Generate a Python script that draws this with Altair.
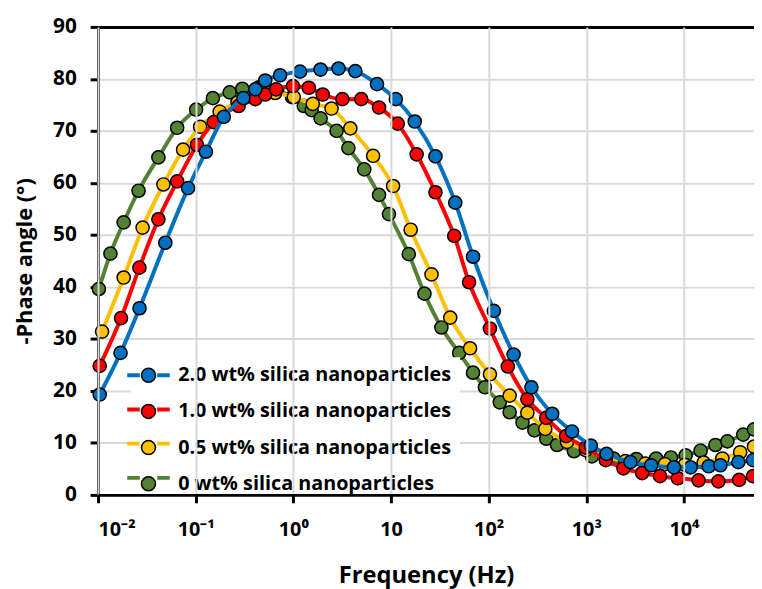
import altair as alt
import pandas as pd

series_names = [
    "2.0 wt% silica nanoparticles",
    "1.0 wt% silica nanoparticles",
    "0.5 wt% silica nanoparticles",
    "0 wt% silica nanoparticles",
]
series_colors = ["#0070C0", "#FF0000", "#FFC000", "#548235"]

# 2.0 wt%
freq_2_0 = [0.0104, 0.0170, 0.0266, 0.0489, 0.0836, 0.127, 0.194, 0.308, 0.408, 0.515,
            0.731, 1.17, 1.90, 2.90, 4.31, 7.19, 11.2, 17.5, 28.5, 45.5,
            69.2, 113, 180, 274, 447, 713, 1110, 1610, 2830, 4610,
            7890, 11700, 17900, 23600, 36000, 50900]
phase_2_0 = [19.3, 27.3, 35.9, 48.5, 59.0, 66.0, 72.7, 76.3, 78.0, 79.7,
             80.7, 81.4, 81.8, 82.0, 81.5, 79.0, 76.1, 71.8, 65.1, 56.2,
             45.8, 35.4, 27.0, 20.7, 15.6, 12.2, 9.5, 7.9, 6.3, 5.7,
             5.3, 5.3, 5.5, 5.7, 6.3, 6.7]

# 1.0 wt%
freq_1_0 = [0.0104, 0.0172, 0.0265, 0.0415, 0.0646, 0.103, 0.153, 0.275, 0.408, 0.515,
            0.667, 0.991, 1.44, 2.00, 3.18, 4.96, 7.54, 11.7, 18.3, 28.5,
            44.4, 63.0, 103, 157, 249, 389, 620, 988, 1580, 2400,
            3730, 5690, 8650, 14100, 22500, 36700, 50900]
phase_1_0 = [24.8, 34.0, 43.7, 53.0, 60.3, 67.3, 71.7, 74.8, 76.1, 77.0,
             78.0, 78.6, 78.3, 77.0, 76.1, 76.1, 74.5, 71.4, 65.5, 58.2,
             49.8, 40.9, 32.0, 24.7, 18.4, 14.8, 11.3, 9.1, 6.7, 5.1,
             4.2, 3.6, 3.2, 2.8, 2.6, 2.9, 3.6]

# 0.5 wt%
freq_0_5 = [0.0110, 0.0183, 0.0286, 0.0467, 0.0743, 0.111, 0.176, 0.268, 0.408, 0.651,
            1.01, 1.58, 2.46, 3.83, 6.56, 10.5, 15.9, 26.0, 40.4, 64.5,
            103, 164, 249, 380, 634, 988, 1580, 2510, 4010, 6390,
            10200, 15900, 24700, 37600, 52100]
phase_0_5 = [31.4, 41.8, 51.4, 59.7, 66.4, 70.8, 73.7, 75.5, 76.8, 77.3,
             76.5, 75.2, 74.3, 70.5, 65.2, 59.4, 51.0, 42.4, 34.1, 28.2,
             23.2, 19.1, 15.8, 12.7, 10.2, 8.6, 7.3, 6.5, 6.0, 5.9,
             5.8, 6.2, 7.0, 8.2, 9.3]

# 0 wt%
freq_0 = [0.0102, 0.0134, 0.0183, 0.0260, 0.0415, 0.0646, 0.101, 0.150, 0.223, 0.300,
          0.446, 0.682, 0.968, 1.28, 1.54, 1.90, 2.77, 3.66, 5.32, 7.54,
          9.53, 15.2, 22.0, 32.8, 49.9, 69.2, 91.5, 130, 164, 222,
          294, 389, 502, 747, 1140, 1900, 3250, 5180, 7350, 10400,
          14800, 21000, 27800, 40400, 52100]
phase_0 = [39.6, 46.4, 52.4, 58.5, 64.9, 70.6, 74.1, 76.3, 77.4, 78.1,
           78.4, 77.8, 76.5, 74.8, 74.0, 72.4, 70.0, 66.7, 62.6, 57.7,
           54.0, 46.3, 38.7, 32.2, 27.3, 23.5, 20.7, 17.8, 15.9, 13.9,
           12.4, 10.8, 9.6, 8.4, 7.4, 7.0, 6.9, 7.0, 7.2, 7.6,
           8.5, 9.6, 10.3, 11.6, 12.6]

x_ticks = [0.01, 0.1, 1, 10, 100, 1000, 10000]
x_tick_labels = ["10⁻²", "10⁻¹", "10⁰", "10", "10²", "10³", "10⁴"]
x_domain = [0.01, 52100]
y_ticks = [0, 10, 20, 30, 40, 50, 60, 70, 80, 90]

FONT = "Open Sans"

series_data = {
    series_names[0]: (freq_2_0, phase_2_0),
    series_names[1]: (freq_1_0, phase_1_0),
    series_names[2]: (freq_0_5, phase_0_5),
    series_names[3]: (freq_0, phase_0),
}

label_expr = ""
for i, (v, lab) in enumerate(zip(x_ticks, x_tick_labels)):
    if i < len(x_ticks) - 1:
        label_expr += f"datum.value < {v * 3} ? '{lab}' : "
    else:
        label_expr += f"'{lab}'"

# line legend uses a twin key (zero-width space appended) so it is not merged
ZW = "\u200b"
line_keys = [n + ZW for n in series_names]

x_scale = alt.Scale(type="log", domain=x_domain, nice=False)
y_scale = alt.Scale(domain=[0, 90], nice=False)
fill_scale = alt.Scale(domain=series_names, range=series_colors)
line_scale = alt.Scale(domain=line_keys, range=series_colors)

LEG_SIZE = 200
legend_common = dict(
    orient="none", title=None, symbolSize=LEG_SIZE, labelFontSize=20, labelFont=FONT,
    labelFontWeight="bold", rowPadding=14.6, labelLimit=400,
)
point_legend = alt.Legend(
    legendX=33, legendY=334, padding=8, fillColor="white", symbolType="circle",
    symbolStrokeColor="black", symbolStrokeWidth=1.5, symbolOpacity=1,
    labelColor="black", labelOffset=20, zindex=1, **legend_common,
)
line_legend = alt.Legend(
    legendX=41, legendY=342, padding=0,
    symbolType="M-3.04,0L-1.24,0M1.24,0L3.04,0", symbolStrokeWidth=4,
    labelExpr="''", labelOffset=20, zindex=2, **legend_common,
)

x_axis = alt.Axis(values=x_ticks, labelExpr=label_expr, title="Frequency (Hz)",
                  titlePadding=25, labelPadding=17, labelFontSize=20, titleFontSize=24,
                  zindex=3)
y_axis = alt.Axis(
    values=y_ticks, title="-Phase angle (°)", titlePadding=16,
    labelPadding=14, labelFontSize=21, titleFontSize=22,
    gridColor=alt.condition("datum.value >= 90", alt.value("black"), alt.value("#d9d9d9")),
    gridWidth=alt.condition("datum.value >= 90", alt.value(3), alt.value(2)),
)

layers = []
draw_order = [series_names[3], series_names[2], series_names[1], series_names[0]]
for name in draw_order:
    f, p = series_data[name]
    df = pd.DataFrame({"freq": f, "phase": p, "series": name, "key": name + ZW})
    base = alt.Chart(df)
    line = base.mark_line(strokeWidth=4, interpolate="monotone").encode(
        x=alt.X("freq:Q", scale=x_scale, axis=x_axis),
        y=alt.Y("phase:Q", scale=y_scale, axis=y_axis),
        stroke=alt.Stroke("key:N", scale=line_scale, legend=line_legend),
    )
    pts = base.mark_point(filled=True, size=177, stroke="black", strokeWidth=1.5,
                          opacity=1).encode(
        x=alt.X("freq:Q", scale=x_scale),
        y=alt.Y("phase:Q", scale=y_scale),
        color=alt.Color("series:N", scale=fill_scale, legend=point_legend),
    )
    layers += [line, pts]

chart = alt.layer(*layers).properties(
    width=663, height=473,
    autosize=alt.AutoSizeParams(type="none"),
    padding={"left": 91, "top": 16, "right": 0, "bottom": 92},
).configure_view(stroke=None).configure_axis(
    labelFont=FONT, labelFontWeight="bold", labelColor="black",
    titleFont=FONT, titleFontWeight="bold", titleColor="black",
    gridColor="#d9d9d9", gridWidth=2, domainColor="black", domainWidth=3,
    tickColor="black", tickWidth=3, tickSize=8,
)

chart.save("out.html", embed_options={"renderer": "svg", "actions": False})
